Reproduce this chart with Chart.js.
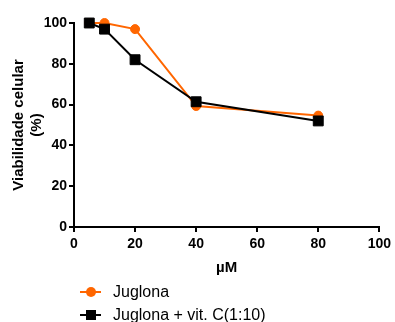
<!DOCTYPE html>
<html>
<head>
<meta charset="utf-8">
<script src="https://cdn.jsdelivr.net/npm/chart.js@4"></script>
<style>
  body { margin: 0; background: #fff; }
  #wrap { position: relative; width: 395px; height: 322px; }
  .leg { position: absolute; left: 80px; height: 20px; display: flex; align-items: center;
         font: 16px "Liberation Sans", Arial, sans-serif; color: #000; }
  .sym { position: relative; width: 21px; height: 20px; margin-right: 12px; }
  .sym .ln { position: absolute; left: 0; top: 9px; width: 21px; height: 2px; }
  .sym .mk { position: absolute; }
</style>
</head>
<body>
<div id="wrap">
  <canvas id="myChart" width="395" height="322"></canvas>
  <div class="leg" style="top:282px">
    <div class="sym"><div class="ln" style="background:#ff6600"></div>
      <div class="mk" style="left:6px;top:5px;width:10px;height:10px;border-radius:50%;background:#ff6600"></div></div>
    <span id="leg1"></span>
  </div>
  <div class="leg" style="top:305px">
    <div class="sym"><div class="ln" style="background:#000"></div>
      <div class="mk" style="left:6px;top:5px;width:10px;height:10px;background:#000"></div></div>
    <span id="leg2"></span>
  </div>
</div>
<script>
const doses = [5, 10, 20, 40, 80];
const juglona = [100, 100, 97, 59.3, 54.6];
const juglonaVitC = [100, 97, 82, 61.4, 52];
const seriesNames = ['Juglona', 'Juglona + vit. C(1:10)'];
const xTicks = [0, 20, 40, 60, 80, 100];
const yTicks = [0, 20, 40, 60, 80, 100];

document.querySelector('#leg1').textContent = seriesNames[0];
document.querySelector('#leg2').textContent = seriesNames[1];

const fontFamily = '"Liberation Sans", Arial, sans-serif';

const ctx = document.getElementById('myChart');

const myChart = new Chart(ctx, {
  type: 'line',
  data: {
    datasets: [
      {
        label: seriesNames[0],
        data: doses.map((d, i) => ({ x: d, y: juglona[i] })),
        borderColor: '#ff6600',
        backgroundColor: '#ff6600',
        borderWidth: 2,
        pointStyle: 'circle',
        pointRadius: 4.5,
        pointBorderWidth: 1,
        clip: false,
        order: 1
      },
      {
        label: seriesNames[1],
        data: doses.map((d, i) => ({ x: d, y: juglonaVitC[i] })),
        borderColor: '#000',
        backgroundColor: '#000',
        borderWidth: 2,
        pointStyle: 'rect',
        pointRadius: 7,
        pointBorderWidth: 1,
        clip: false,
        order: 0
      }
    ]
  },
  options: {
    responsive: false,
    animation: false,
    layout: { padding: { top: 23, right: 13, bottom: 39, left: 10 } },
    plugins: { legend: { display: false }, tooltip: { enabled: false } },
    elements: { line: { tension: 0 } },
    scales: {
      x: {
        type: 'linear',
        min: 0,
        max: 100,
        afterBuildTicks: s => { s.ticks = xTicks.map(v => ({ value: v })); },
        afterFit: s => { s.height = 56; },
        grid: { drawOnChartArea: false, color: '#000', lineWidth: 2, tickLength: 5 },
        border: { color: '#000', width: 2 },
        ticks: { color: '#000', font: { family: fontFamily, size: 14, weight: 'bold' }, padding: 4, maxRotation: 0 },
        title: { display: true, text: 'µM', color: '#000', font: { family: fontFamily, size: 15, weight: 'bold' }, padding: { top: 4, bottom: 6 } }
      },
      y: {
        min: 0,
        max: 100,
        afterBuildTicks: s => { s.ticks = yTicks.map(v => ({ value: v })); },
        afterFit: s => { s.width = 64; },
        grid: { drawOnChartArea: false, color: '#000', lineWidth: 2, tickLength: 5 },
        border: { color: '#000', width: 2 },
        ticks: { color: '#000', font: { family: fontFamily, size: 14, weight: 'bold' }, padding: 2 },
        title: { display: true, text: ['Viabilidade celular', '(%)'], color: '#000', font: { family: fontFamily, size: 15, weight: 'bold', lineHeight: 1.2 }, padding: { top: 0, bottom: 0 } }
      }
    }
  }
});
</script>
</body>
</html>
